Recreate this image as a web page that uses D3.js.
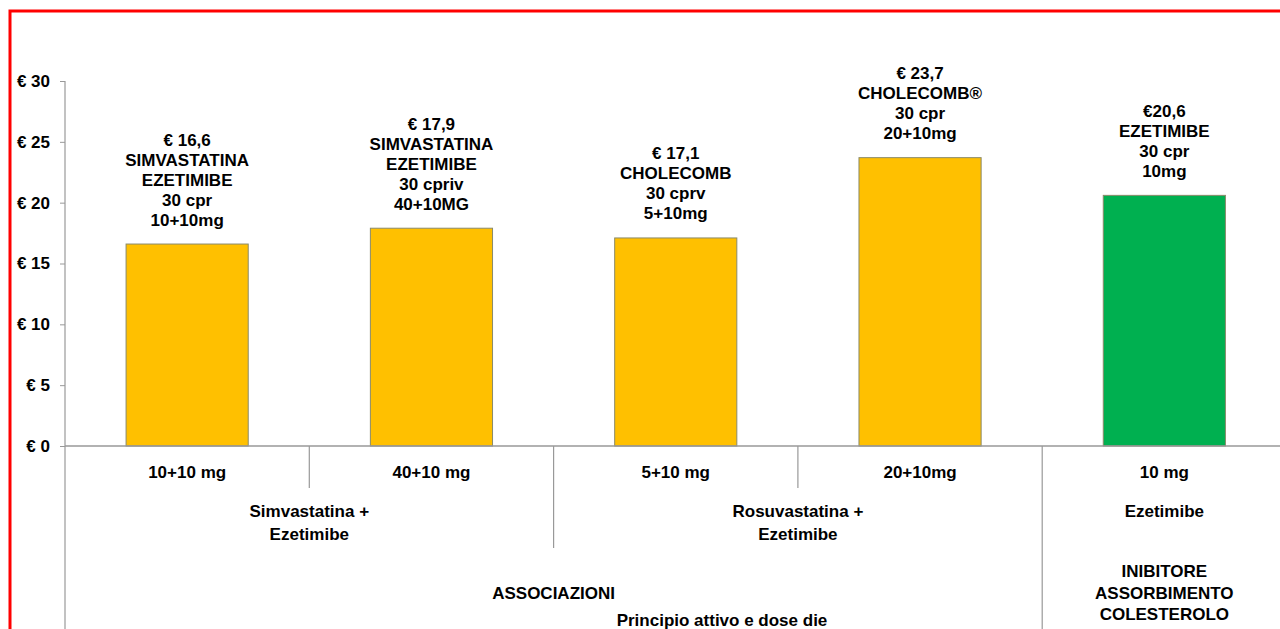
<!DOCTYPE html>
<html>
<head>
<meta charset="utf-8">
<script src="https://cdn.jsdelivr.net/npm/d3@7"></script>
<style>
  html, body { margin: 0; padding: 0; background: #fff; overflow: hidden; }
  svg { display: block; }
  text { font-family: "Liberation Sans", Arial, sans-serif; font-weight: bold; fill: #000; }
</style>
</head>
<body>
<svg id="chart" width="1280" height="629"></svg>
<script>
// Monthly cost per pack, by active principle and daily dose
const doses = ["10+10 mg", "40+10 mg", "5+10 mg", "20+10mg", "10 mg"];
const prices = [16.6, 17.9, 17.1, 23.7, 20.6];
const priceLabels = ["€ 16,6", "€ 17,9", "€ 17,1", "€ 23,7", "€20,6"];
const productLines = [
  ["SIMVASTATINA", "EZETIMIBE", "30 cpr", "10+10mg"],
  ["SIMVASTATINA", "EZETIMIBE", "30 cpriv", "40+10MG"],
  ["CHOLECOMB", "30 cprv", "5+10mg"],
  ["CHOLECOMB®", "30 cpr", "20+10mg"],
  ["EZETIMIBE", "30 cpr", "10mg"]
];
const barColors = ["#FFC000", "#FFC000", "#FFC000", "#FFC000", "#00B050"];

// Second level: active principles (first, last+1 category index)
const principles = ["Simvastatina +\nEzetimibe", "Rosuvastatina +\nEzetimibe", "Ezetimibe"];
const principleSpans = [[0, 2], [2, 4], [4, 5]];
// Third level: therapeutic class
const classes = ["ASSOCIAZIONI", "INIBITORE\nASSORBIMENTO\nCOLESTEROLO"];
const classSpans = [[0, 4], [4, 5]];

const yTicks = [0, 5, 10, 15, 20, 25, 30];
const axisTitle = "Principio attivo e dose die";

const svg = d3.select("#chart");

// Red frame around the chart area
svg.append("rect")
  .attr("x", 10).attr("y", 11)
  .attr("width", 1300).attr("height", 700)
  .attr("fill", "none").attr("stroke", "#ff0000").attr("stroke-width", 3);

const left = 65, band = 244.3;
const x = d3.scaleBand().domain(d3.range(doses.length))
  .range([left, left + band * doses.length]).padding(0);
const y = d3.scaleLinear().domain([0, 30]).range([446, 81]);
const bw = x.bandwidth();
const edge = i => x.range()[0] + i * bw;

// Y axis
const yAxis = svg.append("g").attr("transform", `translate(${left},0)`)
  .attr("font-size", 17)
  .call(d3.axisLeft(y).tickValues(yTicks).tickSize(5).tickPadding(10)
    .tickFormat(d => "€ " + d));
yAxis.attr("font-size", 17).attr("font-family", "'Liberation Sans', Arial, sans-serif");
yAxis.select(".domain").remove();
yAxis.selectAll(".tick line").attr("stroke", "#999");
yAxis.selectAll(".tick text")
  .style("font-size", "17px").style("font-weight", "bold").attr("fill", "#000");

// Vertical axis line, continued down through the category rows
svg.append("line").attr("x1", left).attr("x2", left)
  .attr("y1", y(30)).attr("y2", 640).attr("stroke", "#999").attr("stroke-width", 1.2);

// Bars
svg.selectAll("rect.bar").data(prices).join("rect").attr("class", "bar")
  .attr("x", (d, i) => x(i) + bw / 4)
  .attr("width", bw / 2)
  .attr("y", d => y(d))
  .attr("height", d => y(0) - y(d))
  .attr("fill", (d, i) => barColors[i])
  .attr("stroke", "#8a8a6a").attr("stroke-width", 1);

// Baseline
svg.append("line").attr("x1", left).attr("x2", x.range()[1])
  .attr("y1", y(0)).attr("y2", y(0)).attr("stroke", "#999").attr("stroke-width", 1.5);

// Value annotations above bars
prices.forEach((v, i) => {
  const lines = [priceLabels[i]].concat(productLines[i]);
  const n = lines.length;
  svg.append("g").selectAll("text").data(lines).join("text")
    .attr("x", x(i) + bw / 2)
    .attr("y", (d, k) => y(v) - 24 - (n - 1 - k) * 20)
    .attr("text-anchor", "middle").attr("dominant-baseline", "central")
    .style("font-size", "17px")
    .text(d => d);
});

// Category dividers: between doses, between principles, between classes
const bottom = 640;
for (let b = 1; b < doses.length; b++) {
  let y2 = 488;
  if (principleSpans.some(s => s[0] === b)) y2 = 548;
  if (classSpans.some(s => s[0] === b)) y2 = bottom;
  svg.append("line").attr("x1", edge(b)).attr("x2", edge(b))
    .attr("y1", y(0)).attr("y2", y2).attr("stroke", "#999").attr("stroke-width", 1.2);
}

// Dose labels
svg.selectAll("text.dose").data(doses).join("text").attr("class", "dose")
  .attr("x", (d, i) => x(i) + bw / 2).attr("y", 472)
  .attr("text-anchor", "middle").attr("dominant-baseline", "central")
  .style("font-size", "17px").text(d => d);

// Principle labels
principles.forEach((p, i) => {
  const cx = (edge(principleSpans[i][0]) + edge(principleSpans[i][1])) / 2;
  svg.append("g").selectAll("text").data(p.split("\n")).join("text")
    .attr("x", cx).attr("y", (d, k) => 511 + k * 23)
    .attr("text-anchor", "middle").attr("dominant-baseline", "central")
    .style("font-size", "17px").text(d => d);
});

// Class labels
classes.forEach((c, i) => {
  const cx = (edge(classSpans[i][0]) + edge(classSpans[i][1])) / 2;
  const parts = c.split("\n");
  svg.append("g").selectAll("text").data(parts).join("text")
    .attr("x", cx).attr("y", (d, k) => 593 + (k - (parts.length - 1) / 2) * 21.5)
    .attr("text-anchor", "middle").attr("dominant-baseline", "central")
    .style("font-size", "17px").text(d => d);
});

// Axis title
svg.append("text").attr("x", 722).attr("y", 620)
  .attr("text-anchor", "middle").attr("dominant-baseline", "central")
  .style("font-size", "17px").text(axisTitle);
</script>
</body>
</html>
